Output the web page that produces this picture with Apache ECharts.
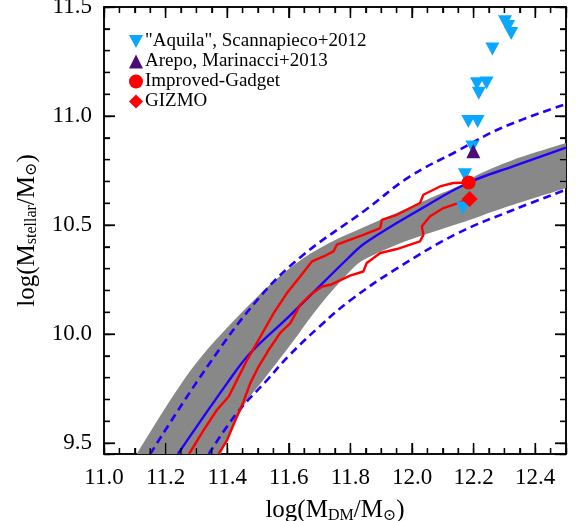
<!DOCTYPE html>
<html>
<head>
<meta charset="utf-8">
<script src="https://cdn.jsdelivr.net/npm/echarts@6/dist/echarts.min.js"></script>
<style>
html,body{margin:0;padding:0;background:#fff;}
#chart{width:582px;height:521px;}
</style>
</head>
<body>
<div id="chart"></div>
<script>
// ---- axis ranges and tick values ----
const xRange = [11.0, 12.5];
const yRange = [9.45, 11.5];
const xTickSteps = [0.2, 0.05];
const yTickSteps = [0.5, 0.1];
const xMajorTicks = [11.0, 11.2, 11.4, 11.6, 11.8, 12.0, 12.2, 12.4];
const xMinorTicks = [11.05,11.1,11.15,11.25,11.3,11.35,11.45,11.5,11.55,11.65,11.7,11.75,11.85,11.9,11.95,12.05,12.1,12.15,12.25,12.3,12.35,12.45];
const yMajorTicks = [9.5, 10.0, 10.5, 11.0, 11.5];
const yMinorTicks = [9.6,9.7,9.8,9.9,10.1,10.2,10.3,10.4,10.6,10.7,10.8,10.9,11.1,11.2,11.3,11.4];

// ---- relation (median) ----
const relationMedian = [[11.24,9.45],[11.40,9.775],[11.475,9.913],[11.60,10.08],[11.794,10.35],[11.85,10.42],[12.03,10.575],[12.185,10.695],[12.33,10.77],[12.5,10.855]];
// ---- scatter +/- (dashed) ----
const relationUpper = [[11.15,9.45],[11.335,9.85],[11.50,10.16],[11.64,10.355],[11.85,10.57],[11.99,10.72],[12.145,10.838],[12.29,10.945],[12.5,11.055]];
const relationLower = [[11.34,9.45],[11.43,9.635],[11.53,9.79],[11.60,9.90],[11.70,10.035],[11.80,10.155],[11.95,10.30],[12.145,10.46],[12.33,10.57],[12.5,10.662]];
// ---- grey uncertainty band ----
const bandTop = [[11.106,9.45],[11.29,9.85],[11.49,10.16],[11.63,10.33],[11.735,10.42],[11.843,10.49],[11.95,10.555],[12.06,10.624],[12.16,10.685],[12.22,10.735],[12.33,10.80],[12.5,10.876]];
const bandBottom = [[11.38,9.45],[11.453,9.668],[11.518,9.79],[11.605,9.95],[11.70,10.13],[11.80,10.29],[11.85,10.345],[11.95,10.41],[12.06,10.465],[12.17,10.515],[12.29,10.575],[12.5,10.67]];
// ---- red contour lines ----
const redUpperTrack = [[11.276,9.45],[11.324,9.561],[11.367,9.653],[11.405,9.714],[11.432,9.79],[11.465,9.882],[11.508,9.989],[11.551,10.096],[11.594,10.188],[11.637,10.264],[11.675,10.333],[11.713,10.356],[11.745,10.379],[11.756,10.41],[11.80,10.433],[11.842,10.455],[11.897,10.486],[11.902,10.524],[11.951,10.547],[12.026,10.601],[12.037,10.639],[12.091,10.677],[12.134,10.693],[12.184,10.695]];
const redLowerTrack = [[11.372,9.45],[11.40,9.515],[11.427,9.607],[11.453,9.691],[11.475,9.775],[11.502,9.851],[11.535,9.928],[11.572,10.005],[11.605,10.05],[11.637,10.134],[11.67,10.18],[11.708,10.218],[11.735,10.226],[11.799,10.268],[11.842,10.287],[11.853,10.326],[11.897,10.372],[11.951,10.39],[12.026,10.425],[12.037,10.455],[12.032,10.494],[12.059,10.54],[12.102,10.578],[12.145,10.598],[12.186,10.62]];
// ---- simulations ----
const aquilaPoints = [[12.302,11.432],[12.312,11.41],[12.322,11.378],[12.261,11.307],[12.242,11.151],[12.211,11.148],[12.217,11.105],[12.183,10.975],[12.213,10.975],[12.196,10.858],[12.172,10.731],[12.165,10.578]];
const arepoPoints = [[12.199,10.838]];
const gadgetPoints = [[12.184,10.695]];
const gizmoPoints = [[12.187,10.62]];
const legendNames = ['"Aquila", Scannapieco+2012','Arepo, Marinacci+2013','Improved-Gadget','GIZMO'];

const serif = "'Liberation Serif','Times New Roman','DejaVu Serif',serif";
const BLUE = '#2200ff';

const chart = echarts.init(document.getElementById('chart'), null, {renderer:'canvas'});

function mkAxis(range, pos, step, len, labels, extra){
  return Object.assign({
    type:'value', min:range[0], max:range[1], position:pos,
    splitNumber: Math.round((range[1]-range[0])/step), minInterval:step, maxInterval:step,
    axisLine:{show:true, onZero:false, lineStyle:{color:'#000', width:1.5}},
    axisTick:{show:true, inside:true, length:len, lineStyle:{color:'#000', width:1.3}},
    axisLabel:{show:!!labels,
      formatter:function(v){ const k = v/step; return Math.abs(k - Math.round(k)) < 1e-6 ? v.toFixed(1) : ''; },
      fontFamily:serif, fontSize:23, color:'#000', margin:12},
    splitLine:{show:false}
  }, extra||{});
}
const subRich = {
  sub:{fontFamily:serif, fontSize:16, color:'#000', verticalAlign:'bottom', lineHeight:16, padding:[14,0,0,0]}
};

// inward tick marks on all four frame sides, positioned through the axes' scales
function tickSeries(vals, isX, len){
  return {
    type:'custom', silent:true, clip:false, z:10,
    data: vals.map(v => isX ? [v, yRange[0]] : [xRange[0], v]),
    renderItem:function(params, api){
      const v = api.value(isX ? 0 : 1);
      const a = isX ? api.coord([v, yRange[0]]) : api.coord([xRange[0], v]);
      const b = isX ? api.coord([v, yRange[1]]) : api.coord([xRange[1], v]);
      const st = {stroke:'#000', lineWidth:1.3};
      return {type:'group', children: isX ? [
        {type:'line', shape:{x1:a[0], y1:a[1], x2:a[0], y2:a[1]-len}, style:st},
        {type:'line', shape:{x1:b[0], y1:b[1], x2:b[0], y2:b[1]+len}, style:st}
      ] : [
        {type:'line', shape:{x1:a[0], y1:a[1], x2:a[0]+len, y2:a[1]}, style:st},
        {type:'line', shape:{x1:b[0], y1:b[1], x2:b[0]-len, y2:b[1]}, style:st}
      ]};
    }
  };
}

// catmull-rom smoothing in pixel space of library-projected points
function smoothPath(pts){
  let d = 'M' + pts[0][0] + ' ' + pts[0][1];
  for (let i = 0; i < pts.length - 1; i++) {
    const p0 = pts[Math.max(i-1,0)], p1 = pts[i], p2 = pts[i+1], p3 = pts[Math.min(i+2, pts.length-1)];
    const c1 = [p1[0] + (p2[0]-p0[0])/6, p1[1] + (p2[1]-p0[1])/6];
    const c2 = [p2[0] - (p3[0]-p1[0])/6, p2[1] - (p3[1]-p1[1])/6];
    d += ' C' + c1[0] + ' ' + c1[1] + ' ' + c2[0] + ' ' + c2[1] + ' ' + p2[0] + ' ' + p2[1];
  }
  return d;
}

const downTri = 'path://M0,0L14,0L7,13Z';
const upTri = 'path://M7,0L14,14L0,14Z';

const option = {
  animation:false,
  grid:{left:104, right:16, top:7, bottom:67, outerBoundsMode:'none'},
  legend:{
    show:true, orient:'vertical', left:124, top:27, itemWidth:14, itemHeight:14, itemGap:1,
    textStyle:{fontFamily:serif, fontSize:19, color:'#000', lineHeight:18, padding:[0,0,0,-3]},
    data:legendNames
  },
  xAxis:[
    mkAxis(xRange, 'bottom', xTickSteps[0], 11, true, {
      name:'log(M{sub|DM}/M{sub|⊙})', nameLocation:'middle', nameGap:35,
      nameTextStyle:{fontFamily:serif, fontSize:25, color:'#000', lineHeight:26, rich:subRich}
    }),
    mkAxis(xRange, 'bottom', xTickSteps[1], 6, false),
    mkAxis(xRange, 'top', xTickSteps[0], 11, false),
    mkAxis(xRange, 'top', xTickSteps[1], 6, false)
  ],
  yAxis:[
    mkAxis(yRange, 'left', yTickSteps[0], 11, true, {
      name:'log(M{sub|stellar}/M{sub|⊙})', nameLocation:'middle', nameGap:64, nameRotate:90,
      nameTextStyle:{fontFamily:serif, fontSize:25, color:'#000', lineHeight:26, rich:subRich}
    }),
    mkAxis(yRange, 'left', yTickSteps[1], 6, false),
    mkAxis(yRange, 'right', yTickSteps[0], 11, false),
    mkAxis(yRange, 'right', yTickSteps[1], 6, false)
  ],
  series:[
    {
      type:'custom', name:'band', clip:true, z:1, silent:true,
      data:[[11.8,10.3]],
      renderItem:function(params, api){
        const top = bandTop.map(p=>api.coord(p));
        const bot = bandBottom.slice().reverse().map(p=>api.coord(p));
        const d = smoothPath(top) + ' L' + smoothPath(bot).slice(1) + ' Z';
        return {type:'path', shape:{pathData:d}, style:{fill:'#888888', stroke:null}};
      }
    },
    {type:'line', name:'upper', data:relationUpper, smooth:0.4, showSymbol:false, symbol:'none', clip:true, z:2,
      lineStyle:{color:BLUE, width:2.6, type:[8,5]}},
    {type:'line', name:'lower', data:relationLower, smooth:0.4, showSymbol:false, symbol:'none', clip:true, z:2,
      lineStyle:{color:BLUE, width:2.6, type:[8,5]}},
    {type:'line', name:'median', data:relationMedian, smooth:0.4, showSymbol:false, symbol:'none', clip:true, z:3,
      lineStyle:{color:BLUE, width:2.4}},
    {type:'line', name:'redA', data:redUpperTrack, smooth:false, showSymbol:false, symbol:'none', clip:true, z:4,
      lineStyle:{color:'#ff0000', width:2.4}},
    {type:'line', name:'redB', data:redLowerTrack, smooth:false, showSymbol:false, symbol:'none', clip:true, z:4,
      lineStyle:{color:'#ff0000', width:2.4}},
    {type:'scatter', name:legendNames[0], data:aquilaPoints, symbol:downTri, symbolSize:[14,13], z:5,
      itemStyle:{color:'#0aa6ff', opacity:1}},
    {type:'scatter', name:legendNames[1], data:arepoPoints, symbol:upTri, symbolSize:[14,14], z:6,
      itemStyle:{color:'#4b0c7a', opacity:1}},
    {type:'scatter', name:legendNames[2], data:gadgetPoints, symbol:'circle', symbolSize:14, z:6,
      itemStyle:{color:'#ff0000', opacity:1}},
    {type:'scatter', name:legendNames[3], data:gizmoPoints, symbol:'diamond', symbolSize:16, z:6,
      itemStyle:{color:'#ff0000', opacity:1}},
    tickSeries(xMajorTicks, true, 11),
    tickSeries(xMinorTicks, true, 6),
    tickSeries(yMajorTicks, false, 11),
    tickSeries(yMinorTicks, false, 6)
  ]
};
chart.setOption(option);
// force a second synchronous pass so every element is painted before capture
try { chart.getZr().storage.getDisplayList(true); } catch(e) {}
chart.setOption({graphic:[]});
try { chart.getZr().flush(); } catch(e) {}
</script>
</body>
</html>
